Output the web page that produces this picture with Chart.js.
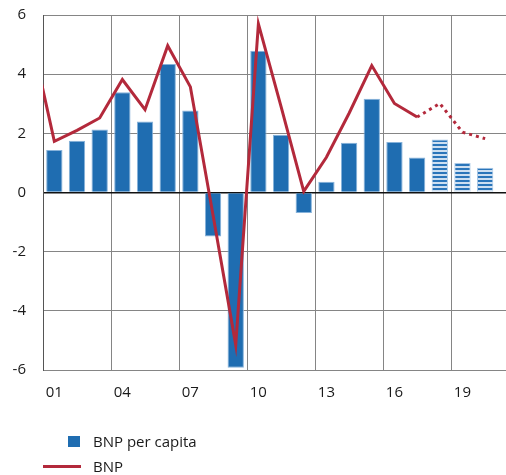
<!DOCTYPE html>
<html>
<head>
<meta charset="utf-8">
<script src="https://cdn.jsdelivr.net/npm/chart.js@4/dist/chart.umd.min.js"></script>
<style>
  html, body { margin: 0; padding: 0; background: #ffffff; }
  #wrap { position: relative; width: 506px; height: 475px; overflow: hidden; }
  #chart { position: absolute; left: 0; top: 0; }
  .legend { position: absolute; left: 0; top: 0; width: 506px; height: 475px; pointer-events: none;
            font-family: "Open Sans", "Noto Sans", sans-serif; font-size: 15px; color: #1a1a1a; }
  .swatch-box { position: absolute; left: 68px; width: 12px; height: 11px; }
  .swatch-line { position: absolute; left: 43px; width: 38px; height: 3px; }
  .label { position: absolute; left: 93px; line-height: 20px; white-space: nowrap; }
</style>
</head>
<body>
<div id="wrap">
  <canvas id="chart" width="506" height="475"></canvas>
  <div class="legend" id="legend"></div>
</div>
<script>
// Annual growth, per cent. The 2000 value only feeds the line segment entering the left edge.
const years = [2000, 2001, 2002, 2003, 2004, 2005, 2006, 2007, 2008, 2009, 2010,
               2011, 2012, 2013, 2014, 2015, 2016, 2017, 2018, 2019, 2020];
const bnpPerCapita = [null, 1.44, 1.75, 2.13, 3.39, 2.40, 4.34, 2.77, -1.49, -5.92, 4.79,
                      1.95, -0.69, 0.36, 1.68, 3.17, 1.71, 1.18, 1.79, 1.00, 0.84];
const bnp = [5.2, 1.73, 2.10, 2.52, 3.82, 2.80, 4.96, 3.57, -0.77, -5.15, 5.70,
             2.90, 0.04, 1.19, 2.68, 4.29, 3.01, 2.55, 3.01, 2.04, 1.82];
const firstForecastYear = 2018;          // forecasts: striped bars, dotted line
const xTickLabels = ['01', '04', '07', '10', '13', '16', '19'];
const yTickValues = [-6, -4, -2, 0, 2, 4, 6];
const seriesNames = ['BNP per capita', 'BNP'];

const BLUE = '#1f6db1';
const RED = '#b3293b';
const GRID = '#858585';

Chart.defaults.font.family = '"Open Sans", "Noto Sans", sans-serif';
Chart.defaults.font.size = 15;
Chart.defaults.color = '#1a1a1a';

// Horizontal stripes for forecast bars
function stripePattern() {
  const c = document.createElement('canvas');
  c.width = 4; c.height = 4;
  const g = c.getContext('2d');
  g.fillStyle = '#cddff1';
  g.fillRect(0, 0, 4, 4);
  g.fillStyle = '#2a75ba';
  g.fillRect(0, 0, 4, 2);
  return g.createPattern(c, 'repeat');
}
const stripes = stripePattern();

const isForecast = (i) => years[i] >= firstForecastYear;

const barData = years.map((y, i) => ({ x: y, y: bnpPerCapita[i] }));
const lineData = years.map((y, i) => ({ x: y, y: bnp[i] }));

const chart = new Chart(document.getElementById('chart'), {
  data: {
    datasets: [
      {
        type: 'line',
        label: seriesNames[1],
        data: lineData,
        order: 0,
        borderColor: RED,
        borderWidth: 3,
        pointRadius: 0,
        tension: 0,
        borderCapStyle: 'butt',
        segment: {
          borderDash: (ctx) => isForecast(ctx.p1DataIndex) ? [3, 4] : undefined
        }
      },
      {
        type: 'bar',
        label: seriesNames[0],
        data: barData,
        order: 1,
        backgroundColor: (ctx) => isForecast(ctx.dataIndex) ? stripes : BLUE,
        borderColor: (ctx) => isForecast(ctx.dataIndex) ? '#a9c8e6' : '#86b2da',
        borderWidth: 1,
        barPercentage: 0.72,
        categoryPercentage: 1
      }
    ]
  },
  options: {
    responsive: false,
    animation: false,
    layout: { padding: { top: 15, right: 0, bottom: 0, left: 0 } },
    plugins: { legend: { display: false }, tooltip: { enabled: false } },
    scales: {
      x: {
        type: 'linear',
        offset: false,
        min: 2000.5,
        max: 2020.92,
        afterBuildTicks: (scale) => {
          scale.ticks = xTickLabels.map((l) => ({ value: 2000 + parseInt(l, 10) - 0.5 }));
        },
        afterFit: (scale) => { scale.height = 105; scale.paddingLeft = 0; scale.paddingRight = 0; },
        ticks: {
          autoSkip: false,
          maxRotation: 0,
          padding: 14,
          labelOffset: 11.3,
          callback: (v, i) => xTickLabels[i]
        },
        grid: { offset: false, color: GRID, lineWidth: 1, drawTicks: false },
        border: { color: GRID, width: 1 }
      },
      y: {
        type: 'linear',
        min: -6,
        max: 6,
        afterBuildTicks: (scale) => {
          scale.ticks = yTickValues.map((v) => ({ value: v }));
        },
        afterFit: (scale) => { scale.width = 43; scale.paddingTop = 0; scale.paddingBottom = 0; },
        ticks: {
          padding: 17,
          callback: (v) => String(v)
        },
        grid: {
          drawTicks: false,
          color: (ctx) => ctx.tick && ctx.tick.value === 0 ? '#111111' : GRID,
          lineWidth: (ctx) => ctx.tick && ctx.tick.value === 0 ? 1.6 : 1
        },
        border: { color: '#555555', width: 1 }
      }
    }
  }
});

// Legend below the plot, one series per row
const legend = document.getElementById('legend');
const rows = [
  { name: seriesNames[0], kind: 'box', color: BLUE, top: 436 },
  { name: seriesNames[1], kind: 'line', color: RED, top: 465 }
];
rows.forEach((r) => {
  const sw = document.createElement('div');
  sw.className = r.kind === 'box' ? 'swatch-box' : 'swatch-line';
  sw.style.background = r.color;
  sw.style.top = r.top + 'px';
  legend.appendChild(sw);
  const lb = document.createElement('div');
  lb.className = 'label';
  lb.textContent = r.name;
  lb.style.top = (r.kind === 'box' ? r.top - 5 : r.top - 9) + 'px';
  legend.appendChild(lb);
});
</script>
</body>
</html>
